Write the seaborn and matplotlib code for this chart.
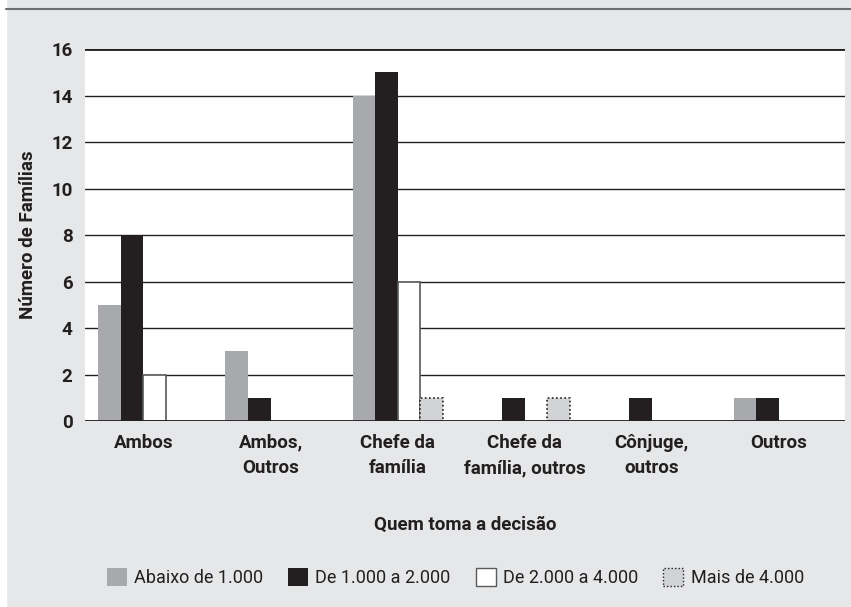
import numpy as np
import pandas as pd
import matplotlib.pyplot as plt
import seaborn as sns
from matplotlib.patches import Patch
from matplotlib.lines import Line2D

categorias = ['Ambos', 'Ambos,\nOutros', 'Chefe da\nfamília', 'Chefe da\nfamília, outros',
              'Cônjuge,\noutros', 'Outros']
faixas = ['Abaixo de 1.000', 'De 1.000 a 2.000', 'De 2.000 a 4.000', 'Mais de 4.000']
abaixo_1000 = [5, 3, 14, 0, 0, 1]
de_1000_2000 = [8, 1, 15, 1, 1, 1]
de_2000_4000 = [2, 0, 6, 0, 0, 0]
mais_4000 = [0, 0, 1, 1, 0, 0]

df = pd.DataFrame({
    'cat': categorias * 4,
    'faixa': np.repeat(faixas, len(categorias)),
    'n': abaixo_1000 + de_1000_2000 + de_2000_4000 + mais_4000,
})

sns.set_style('white')
plt.rcParams['font.family'] = ['Roboto', 'DejaVu Sans']

bg = '#e6e7e8'
cores = ['#a7a9ac', '#231f20', '#ffffff', '#d1d3d4']
tinta = '#231f20'

fig = plt.figure(figsize=(8.51, 6.07), dpi=100)
fig.patch.set_facecolor(bg)
fig.patches.append(plt.Rectangle((0, 0), 0.007, 1, transform=fig.transFigure,
                                 color='white', zorder=0))
ax = fig.add_axes([0.0999, 0.3064, 0.893, 0.6128])
ax.set_facecolor('white')

sns.barplot(data=df, x='cat', y='n', hue='faixa', palette=cores, width=0.71,
            ax=ax, legend=False, saturation=1)

# estilo de cada série
for i, cont in enumerate(ax.containers):
    for bar in cont:
        if bar.get_height() == 0:
            bar.set_visible(False)
            continue
        if i == 2:
            bar.set_edgecolor('#58595b')
            bar.set_linewidth(1.2)
        elif i == 3:
            bar.set_edgecolor(tinta)
            bar.set_linestyle((0, (1, 1.5)))
            bar.set_linewidth(1.2)
        else:
            bar.set_linewidth(0)

ax.set_ylim(0, 16)
ax.set_xlim(-0.46, 5.52)
ax.set_yticks(range(0, 17, 2))
ax.yaxis.grid(True, color=tinta, linewidth=1)
ax.set_axisbelow(True)
for s in ax.spines.values():
    s.set_visible(False)
ax.axhline(16, color=tinta, linewidth=2, zorder=0.5)
ax.axhline(0, color=tinta, linewidth=2, zorder=3)

ax.tick_params(axis='y', length=4, color=tinta, labelsize=13.5, pad=5)
ax.tick_params(axis='x', length=0, labelsize=13.5, pad=9)
for t in ax.get_xticklabels() + ax.get_yticklabels():
    t.set_fontweight('bold')
    t.set_color(tinta)
for t in ax.get_xticklabels():
    t.set_linespacing(1.55)

ax.set_ylabel('Número de Famílias', fontsize=13.5, fontweight='bold', color=tinta, labelpad=10)
ax.set_xlabel('Quem toma a decisão', fontsize=13.5, fontweight='bold', color=tinta, labelpad=28)

fig.add_artist(Line2D([0.007, 1], [0.985, 0.985], transform=fig.transFigure,
                      color='#6d6e71', linewidth=1.5))

handles = [Patch(facecolor=cores[0], edgecolor='none'),
           Patch(facecolor=cores[1], edgecolor='none'),
           Patch(facecolor=cores[2], edgecolor='#58595b', linewidth=1),
           Patch(facecolor=cores[3], edgecolor=tinta, linestyle=(0, (1, 1.5)), linewidth=1)]
fig.legend(handles, faixas, loc='center', bbox_to_anchor=(0.535, 0.048), ncol=4,
           frameon=False, fontsize=13, handlelength=1.1, handleheight=1.1,
           handletextpad=0.4, columnspacing=1.4, labelcolor=tinta)

fig.savefig('out.png', dpi=100, facecolor=bg)
